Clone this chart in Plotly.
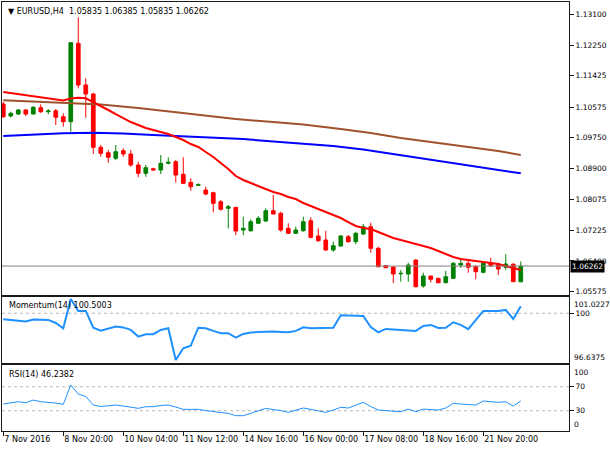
import plotly.graph_objects as go

# EURUSD H4 bars (bar 0 = first visible bar on 7 Nov 2016)
opens = [1.10658, 1.10333, 1.10387, 1.10496, 1.10387, 1.10558, 1.10450, 1.10477, 1.10314, 1.10178,
         1.12305, 1.11174, 1.10930, 1.09484, 1.09337, 1.09185, 1.09392, 1.09302, 1.09004, 1.08778,
         1.08903, 1.08868, 1.09050, 1.09093, 1.08751, 1.08534, 1.08453, 1.08325, 1.08252, 1.08008,
         1.07829, 1.07856, 1.07240, 1.07221, 1.07422, 1.07484, 1.07764, 1.07693, 1.07286, 1.07151,
         1.07221, 1.07492, 1.07077, 1.06969, 1.06698, 1.06806, 1.07058, 1.06923, 1.07132, 1.07330,
         1.06744, 1.06272, 1.06236, 1.06054, 1.06046, 1.06426, 1.05721, 1.05992, 1.05930, 1.05810,
         1.05930, 1.06291, 1.06337, 1.06244, 1.06093, 1.06353, 1.06318, 1.06228, 1.06310, 1.05835]
highs = [1.10713, 1.10450, 1.10523, 1.10523, 1.10604, 1.10650, 1.10523, 1.10523, 1.10406, 1.12322,
         1.13011, 1.11356, 1.10965, 1.09546, 1.09411, 1.09546, 1.09457, 1.09411, 1.09093, 1.09004,
         1.08930, 1.09275, 1.09213, 1.09139, 1.09213, 1.08643, 1.08507, 1.08415, 1.08279, 1.08054,
         1.07918, 1.07856, 1.07601, 1.07530, 1.07620, 1.07829, 1.08190, 1.07737, 1.07422, 1.07330,
         1.07601, 1.07585, 1.07286, 1.07221, 1.06923, 1.07104, 1.07104, 1.07194, 1.07403, 1.07438,
         1.06787, 1.06291, 1.06250, 1.06155, 1.06353, 1.06445, 1.06082, 1.05992, 1.05938, 1.06136,
         1.06364, 1.06470, 1.06426, 1.06291, 1.06380, 1.06489, 1.06337, 1.06581, 1.06345, 1.06385]
lows = [1.10279, 1.10298, 1.10360, 1.10333, 1.10379, 1.10414, 1.10379, 1.10089, 1.10043, 1.09907,
        1.11084, 1.10287, 1.09302, 1.09229, 1.09066, 1.09139, 1.09229, 1.08957, 1.08670, 1.08686,
        1.08841, 1.08759, 1.09023, 1.08534, 1.08488, 1.08306, 1.08442, 1.08182, 1.07720, 1.07764,
        1.07286, 1.07104, 1.07104, 1.07194, 1.07422, 1.07465, 1.07674, 1.07194, 1.07132, 1.07132,
        1.07194, 1.07015, 1.06923, 1.06679, 1.06651, 1.06787, 1.06896, 1.06860, 1.07104, 1.06624,
        1.06228, 1.06209, 1.05802, 1.05838, 1.05838, 1.05686, 1.05675, 1.05821, 1.05802, 1.05794,
        1.05911, 1.06209, 1.06082, 1.05903, 1.06065, 1.06244, 1.06019, 1.06155, 1.05838, 1.05835]
closes = [1.10314, 1.10406, 1.10496, 1.10387, 1.10569, 1.10450, 1.10469, 1.10298, 1.10178, 1.12322,
          1.11174, 1.10930, 1.09484, 1.09321, 1.09213, 1.09364, 1.09302, 1.09004, 1.08778, 1.08930,
          1.08868, 1.09050, 1.09077, 1.08732, 1.08507, 1.08415, 1.08469, 1.08217, 1.07964, 1.07802,
          1.07872, 1.07213, 1.07286, 1.07465, 1.07558, 1.07764, 1.07674, 1.07240, 1.07151, 1.07240,
          1.07465, 1.07042, 1.06950, 1.06698, 1.06814, 1.07077, 1.06923, 1.07151, 1.07330, 1.06744,
          1.06244, 1.06217, 1.06046, 1.06065, 1.06291, 1.05702, 1.05992, 1.05903, 1.05810, 1.05973,
          1.06337, 1.06337, 1.06228, 1.06109, 1.06337, 1.06272, 1.06182, 1.06318, 1.05838, 1.06262]

# moving averages
ma_fast = [1.10984, 1.10957, 1.10930, 1.10903, 1.10876, 1.10848, 1.10808, 1.10781, 1.10753, 1.10808,
           1.10829, 1.10813, 1.10713, 1.10604, 1.10496, 1.10387, 1.10279, 1.10170, 1.10089, 1.10007,
           1.09953, 1.09899, 1.09845, 1.09763, 1.09682, 1.09573, 1.09492, 1.09356, 1.09221, 1.09058,
           1.08895, 1.08705, 1.08597, 1.08515, 1.08434, 1.08352, 1.08271, 1.08217, 1.08135, 1.08081,
           1.07973, 1.07891, 1.07810, 1.07728, 1.07647, 1.07566, 1.07457, 1.07349, 1.07294, 1.07267,
           1.07186, 1.07104, 1.07023, 1.06969, 1.06915, 1.06860, 1.06806, 1.06752, 1.06670, 1.06589,
           1.06508, 1.06453, 1.06426, 1.06399, 1.06372, 1.06345, 1.06318, 1.06263, 1.06209, 1.06155]
ma_mid_bars = [0, 5, 9, 13, 18, 23, 27, 31, 36, 40, 45, 49, 53, 58, 62, 66, 69]
ma_mid = [1.10762, 1.10713, 1.10691, 1.10645, 1.10550, 1.10441, 1.10346, 1.10252, 1.10170,
          1.10102, 1.09980, 1.09872, 1.09736, 1.09600, 1.09492, 1.09383, 1.09275]
ma_slow_bars = [0, 4, 8, 12, 16, 20, 24, 28, 32, 36, 40, 44, 48, 52, 56, 60, 64, 67, 69]
ma_slow = [1.09790, 1.09831, 1.09866, 1.09877, 1.09858, 1.09817, 1.09782, 1.09750, 1.09709, 1.09641,
           1.09587, 1.09519, 1.09424, 1.09302, 1.09180, 1.09044, 1.08922, 1.08841, 1.08778]

momentum = [99.57, 99.52, 99.45, 99.41, 99.55, 99.52, 99.52, 99.30, 98.92, 101.0227,
            100.17, 100.17, 98.96, 98.75, 98.87, 99.04, 98.98, 98.80, 98.32, 98.49,
            98.49, 98.80, 98.92, 96.6375, 97.48, 97.67, 98.96, 98.92, 98.73, 98.56,
            98.56, 98.24, 98.51, 98.62, 98.65, 98.68, 98.68, 98.65, 98.63, 98.73,
            98.99, 98.92, 98.94, 98.96, 98.96, 99.86, 99.83, 99.81, 99.81, 99.01,
            98.62, 98.87, 98.83, 98.80, 98.76, 98.73, 99.09, 99.16, 98.94, 98.96,
            99.35, 99.16, 98.85, 99.52, 100.17, 100.17, 100.17, 100.24, 99.59, 100.5003]
rsi = [41.2, 42.8, 45.0, 43.3, 47.8, 45.0, 44.5, 42.8, 40.7, 72.8,
       57.8, 53.7, 39.5, 37.0, 38.3, 39.5, 37.8, 36.2, 34.0, 36.7,
       36.7, 38.7, 39.5, 36.2, 32.3, 32.3, 32.3, 30.3, 28.3, 27.0,
       25.7, 21.7, 21.7, 26.2, 30.3, 34.0, 32.0, 30.3, 27.3, 31.2,
       34.5, 32.3, 29.5, 27.3, 31.2, 35.7, 34.5, 39.5, 44.0, 37.0,
       31.2, 30.3, 29.0, 28.3, 32.8, 28.3, 32.8, 32.0, 31.2, 34.5,
       42.3, 41.2, 40.7, 39.5, 46.2, 44.5, 44.0, 45.0, 37.8, 46.2382]

time_tick_bars = [0, 8, 16, 24, 32, 40, 48, 56, 64]
time_tick_labels = ["7 Nov 2016", "8 Nov 20:00", "10 Nov 04:00", "11 Nov 12:00", "14 Nov 16:00",
                    "16 Nov 00:00", "17 Nov 08:00", "18 Nov 16:00", "21 Nov 20:00"]
price_ticks = [1.13100, 1.12250, 1.11425, 1.10575, 1.09750, 1.08900, 1.08075, 1.07225, 1.06400, 1.05575]

bars = list(range(len(closes)))
FONT = "DejaVu Sans"
BORDER = "#1a1a1a"
LEVEL = dict(color="#b8b8b8", width=1, dash="3px,3px")
X_RANGE = [-0.17, 75.43]

fig = go.Figure()
fig.add_trace(go.Candlestick(
    x=bars, open=opens, high=highs, low=lows, close=closes,
    increasing=dict(line=dict(color="#008000", width=1), fillcolor="#008000"),
    decreasing=dict(line=dict(color="#ff0000", width=1), fillcolor="#ff0000"),
    whiskerwidth=0, xaxis="x", yaxis="y", hoverinfo="skip",
))
fig.add_trace(go.Scatter(x=ma_mid_bars, y=ma_mid, mode="lines", line=dict(color="#a0522d", width=2),
                         xaxis="x", yaxis="y"))
fig.add_trace(go.Scatter(x=ma_slow_bars, y=ma_slow, mode="lines", line=dict(color="#0000ff", width=2),
                         xaxis="x", yaxis="y"))
fig.add_trace(go.Scatter(x=bars, y=ma_fast, mode="lines", line=dict(color="#ff0000", width=2),
                         xaxis="x", yaxis="y"))
fig.add_trace(go.Scatter(x=bars, y=momentum, mode="lines", line=dict(color="#1e90ff", width=2),
                         xaxis="x2", yaxis="y2"))
fig.add_trace(go.Scatter(x=bars, y=rsi, mode="lines", line=dict(color="#1e90ff", width=1),
                         xaxis="x3", yaxis="y3"))

# current price line and indicator levels
fig.add_shape(type="line", xref="x domain", x0=0, x1=1, yref="y", y0=closes[-1], y1=closes[-1],
              line=dict(color="#808080", width=1))
fig.add_shape(type="line", xref="x2 domain", x0=0, x1=1, yref="y2", y0=100, y1=100, line=LEVEL, layer="below")
for lvl in (70, 30):
    fig.add_shape(type="line", xref="x3 domain", x0=0, x1=1, yref="y3", y0=lvl, y1=lvl, line=LEVEL, layer="below")

small = dict(family=FONT, size=8, color="black")
scale_font = dict(family=FONT, size=7.5, color="black")
fig.add_annotation(xref="paper", yref="paper", x=0, y=1, xanchor="left", yanchor="top", xshift=4, yshift=-3,
                   showarrow=False, font=small,
                   text="\u25bc EURUSD,H4\u00a0\u00a0%.5f %.5f %.5f %.5f" % (opens[-1], highs[-1], lows[-1], closes[-1]))
fig.add_annotation(xref="paper", yref="y2", x=0, y=101.17, xanchor="left", yanchor="top", xshift=5, yshift=-2,
                   showarrow=False, font=small, text="Momentum(14) %.4f" % momentum[-1])
fig.add_annotation(xref="paper", yref="y3", x=0, y=106.2, xanchor="left", yanchor="top", xshift=5, yshift=-3,
                   showarrow=False, font=small, text="RSI(14) %.4f" % rsi[-1])
# price box on the scale
fig.add_annotation(xref="paper", yref="y", x=1, y=closes[-1], xanchor="left", xshift=1, showarrow=False,
                   text="%.5f" % closes[-1], font=dict(family=FONT, size=7.5, color="white"),
                   bgcolor="black", borderpad=1)
# min / max labels of the sub windows
for yref, val, txt, shift in [("y2", 101.0227, "101.0227", -5), ("y2", 96.6375, "96.6375", 2),
                              ("y3", 100, "100", -4), ("y3", 0, "0", 4)]:
    fig.add_annotation(xref="paper", yref=yref, x=1, y=val, xanchor="left", xshift=3, yshift=shift,
                       showarrow=False, text=txt, font=scale_font)

xcommon = dict(range=X_RANGE, showgrid=False, zeroline=False, showline=True, mirror=True,
               linecolor=BORDER, linewidth=1)
ycommon = dict(side="right", showgrid=False, zeroline=False, showline=True, mirror=True,
               linecolor=BORDER, linewidth=1, ticks="outside", ticklen=4, tickcolor=BORDER,
               tickfont=scale_font)

fig.update_layout(
    width=610, height=450,
    margin=dict(l=2, r=41, t=2, b=19),
    paper_bgcolor="white", plot_bgcolor="white",
    showlegend=False,
    xaxis=dict(xcommon, anchor="y", showticklabels=False, rangeslider=dict(visible=False)),
    xaxis2=dict(xcommon, anchor="y2", showticklabels=False),
    xaxis3=dict(xcommon, anchor="y3", tickvals=time_tick_bars, ticktext=time_tick_labels,
                ticks="outside", ticklen=4, tickcolor=BORDER, ticklabelposition="outside right",
                tickangle=0, tickfont=small),
    yaxis=dict(ycommon, domain=[0.317, 1], range=[1.05477, 1.13426],
               tickvals=price_ticks, ticktext=["%.5f" % v for v in price_ticks]),
    yaxis2=dict(ycommon, domain=[0.1585, 0.3124], range=[96.42, 101.17], tickvals=[100], ticktext=["100"]),
    yaxis3=dict(ycommon, domain=[0, 0.1538], range=[-3.8, 106.2], tickvals=[70, 30], ticktext=["70", "30"]),
)

# the page's default body margin would shift the 610x450 chart out of the window
fig.write_html("out.html", config={"displayModeBar": False},
               post_script="document.body.style.margin = '0px';")
